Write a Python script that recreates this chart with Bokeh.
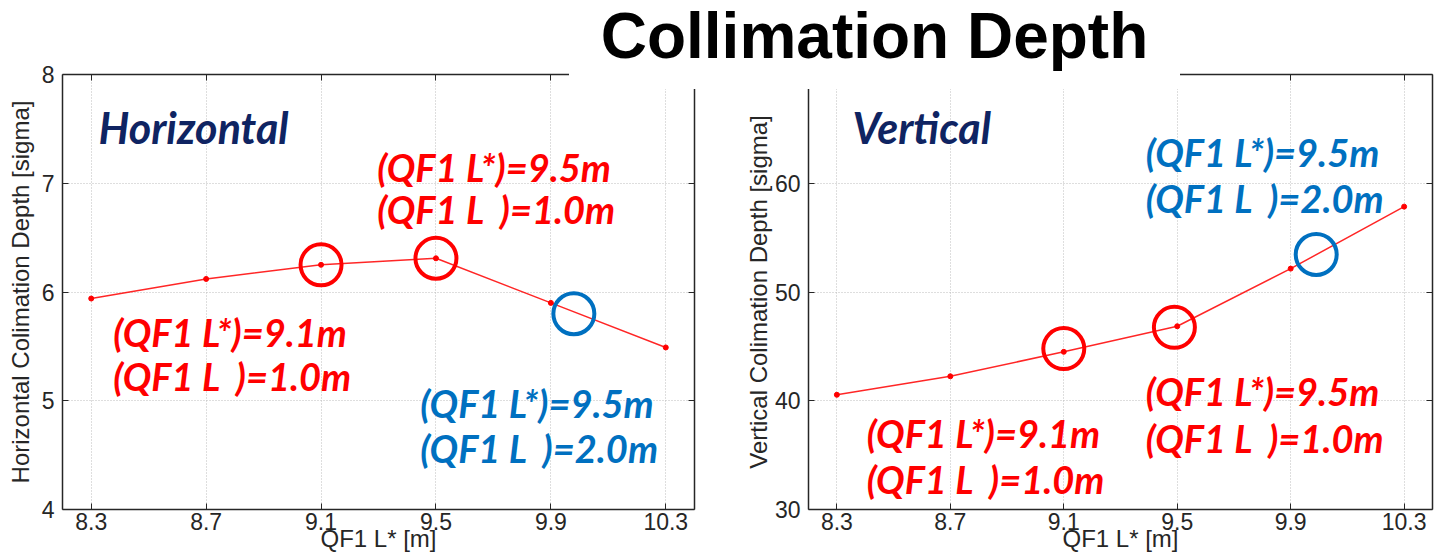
from bokeh.plotting import figure
from bokeh.models import Div, LinearAxis, FixedTicker, Range1d
from bokeh.layouts import row, column
from bokeh.core.properties import value
from bokeh.embed import file_html
from bokeh.resources import INLINE

# ---------------- data ----------------
qf1_lstar = [8.3, 8.7, 9.1, 9.5, 9.9, 10.3]
horizontal_depth = [5.94, 6.12, 6.25, 6.31, 5.90, 5.49]
vertical_depth = [40.55, 42.25, 44.5, 46.85, 52.15, 57.85]

x_ticks = [8.3, 8.7, 9.1, 9.5, 9.9, 10.3]
h_ticks = [4, 5, 6, 7, 8]
v_ticks = [30, 40, 50, 60, 70]

title_text = "Collimation Depth"
x_label = "QF1 L* [m]"
h_label = "Horizontal Colimation Depth [sigma]"
v_label = "Vertical Colimation Depth [sigma]"
h_name = "Horizontal"
v_name = "Vertical"

# highlighted cases (x, y)
h_red_x = [9.1, 9.5]
h_red_y = [6.25, 6.31]
h_blue_x = [9.98]
h_blue_y = [5.80]
v_red_x = [9.1, 9.49]
v_red_y = [44.8, 46.75]
v_blue_x = [9.99]
v_blue_y = [53.45]

SP = "\u00a0\u00a0"
note_a = ["(QF1 L*)=9.1m", "(QF1 L" + SP + ")=1.0m"]
note_b = ["(QF1 L*)=9.5m", "(QF1 L" + SP + ")=1.0m"]
note_c = ["(QF1 L*)=9.5m", "(QF1 L" + SP + ")=2.0m"]

RED = "#ff0000"
BLUE = "#0070c0"
NAVY = "#0f2462"
AXC = "#262626"
TICK_FONT = "Liberation Sans"
NOTE_FONT = "Lato"
TICK_SIZE = "23px"
LABEL_SIZE = "24px"


def style_axis(ax):
    ax.major_tick_in = 6
    ax.major_tick_out = 0
    ax.minor_tick_line_color = None
    ax.axis_line_color = AXC
    ax.axis_line_width = 1.5
    ax.major_tick_line_color = AXC
    ax.major_tick_line_width = 1


def make_fig(xr, yr, yticks, ylabel, fw, bl, br, ylab_standoff):
    p = figure(x_range=Range1d(*xr), y_range=Range1d(*yr),
               frame_width=fw, frame_height=435,
               min_border_left=bl, min_border_right=br,
               min_border_top=74, min_border_bottom=48,
               output_backend="svg", toolbar_location=None,
               background_fill_color="white", border_fill_color="white",
               outline_line_color=None)
    p.xaxis.ticker = FixedTicker(ticks=x_ticks)
    p.yaxis.ticker = FixedTicker(ticks=yticks)
    for ax in (p.xaxis[0], p.yaxis[0]):
        style_axis(ax)
        ax.major_label_text_font = TICK_FONT
        ax.major_label_text_font_size = TICK_SIZE
        ax.major_label_text_color = AXC
        ax.axis_label_text_font = TICK_FONT
        ax.axis_label_text_font_size = LABEL_SIZE
        ax.axis_label_text_font_style = "normal"
        ax.axis_label_text_color = AXC
    p.xaxis.axis_label = x_label
    p.xaxis.major_label_standoff = 3
    p.xaxis.axis_label_standoff = -8
    p.yaxis.axis_label = ylabel
    p.yaxis.major_label_standoff = 8
    p.yaxis.axis_label_standoff = ylab_standoff

    for side, tk in (("right", yticks), ("above", x_ticks)):
        ax = LinearAxis(ticker=FixedTicker(ticks=tk))
        style_axis(ax)
        ax.major_label_text_font_size = "1px"
        ax.major_label_text_color = None
        ax.major_label_standoff = 0
        p.add_layout(ax, side)

    p.xgrid.ticker = FixedTicker(ticks=x_ticks)
    p.ygrid.ticker = FixedTicker(ticks=yticks)
    for g in (p.xgrid[0], p.ygrid[0]):
        g.grid_line_color = "#bdbdbd"
        g.grid_line_dash = "1 2"
        g.grid_line_width = 1
    return p


def notes(p, x, ys, lines, color, size="38px"):
    p.text(x=[x] * len(lines), y=ys, text=lines,
           text_font=value(NOTE_FONT), text_font_size=size,
           text_font_style="bold italic", text_color=color,
           text_align="left", text_baseline="alphabetic")


def rings(p, xs, ys, color):
    p.scatter(xs, ys, marker="circle", size=41, fill_color=None,
              line_color=color, line_width=4)


def panel_name(p, x, y, name):
    p.text(x=[x], y=[y], text=[name], text_font=value(NOTE_FONT),
           text_font_size="43px", text_font_style="bold italic", text_color=NAVY,
           text_align="left", text_baseline="alphabetic")


# ---------------- horizontal ----------------
p1 = make_fig((8.2, 10.4), (4, 8), h_ticks, h_label, 632, 62, 36, 5)
p1.line(qf1_lstar, horizontal_depth, line_color=RED, line_width=1.5, line_alpha=0.85)
p1.scatter(qf1_lstar, horizontal_depth, size=5, color=RED)
rings(p1, h_red_x, h_red_y, RED)
rings(p1, h_blue_x, h_blue_y, BLUE)
panel_name(p1, 8.325, 7.513, h_name)
notes(p1, 9.296, [7.145, 6.759], note_b, RED)
notes(p1, 8.377, [5.628, 5.232], note_a, RED)
notes(p1, 9.445, [4.975, 4.570], note_c, BLUE)

# ---------------- vertical ----------------
p2 = make_fig((8.2, 10.4), (30, 70), v_ticks, v_label, 624, 78, 3, 0)
p2.line(qf1_lstar, vertical_depth, line_color=RED, line_width=1.5, line_alpha=0.85)
p2.scatter(qf1_lstar, vertical_depth, size=5, color=RED)
rings(p2, v_red_x, v_red_y, RED)
rings(p2, v_blue_x, v_blue_y, BLUE)
panel_name(p2, 8.355, 65.13, v_name)
notes(p2, 9.389, [62.83, 58.60], note_c, BLUE)
notes(p2, 8.405, [37.08, 32.85], note_a, RED)
notes(p2, 9.389, [40.94, 36.62], note_b, RED)

# ---------------- title banner ----------------
title = Div(
    text=('<div style="width:611px;height:89px;background:#ffffff;color:#000000;'
          'font-family:\'Liberation Sans\',sans-serif;font-weight:bold;font-size:64px;'
          'text-align:center;line-height:73px;white-space:nowrap;">'
          + title_text + '</div>'),
    width=611, height=89, margin=0,
    styles={"position": "absolute", "left": "569px", "top": "0px",
            "z-index": "10", "background-color": "white"})

layout = column(row(p1, p2), title)

open("out.html", "w").write(file_html(layout, INLINE))
